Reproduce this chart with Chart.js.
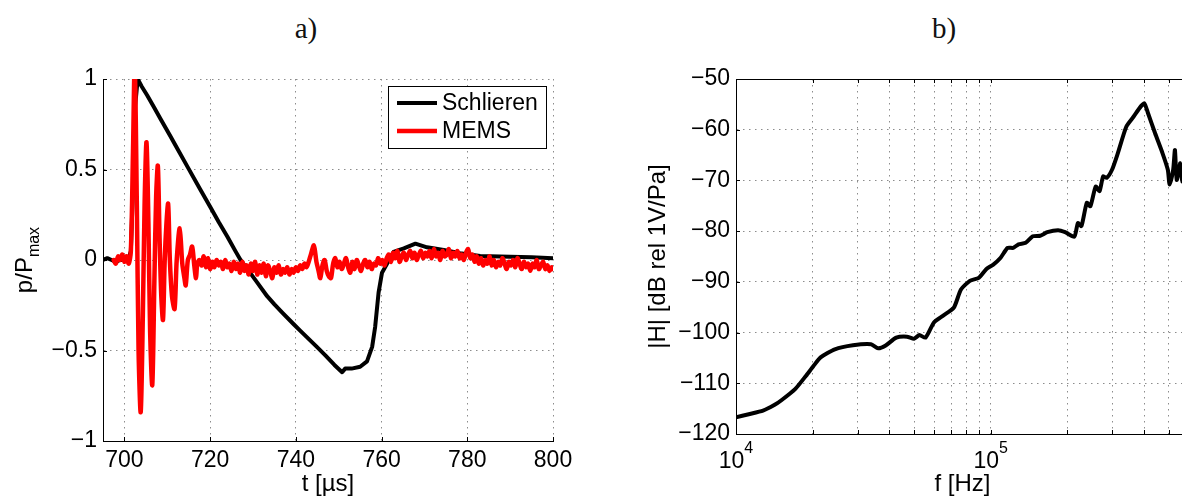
<!DOCTYPE html>
<html>
<head>
<meta charset="utf-8">
<script src="https://cdn.jsdelivr.net/npm/chart.js@4.4.0/dist/chart.umd.min.js"></script>
<style>
  html, body { margin: 0; padding: 0; background: #fff; overflow: hidden; }
  body { width: 1182px; height: 496px; position: relative; }
  .panel { position: absolute; top: 0; width: 600px; height: 496px; }
  .tag { position: absolute; font-family: "Liberation Serif", "DejaVu Serif", serif; font-size: 29px;
         color: #111; transform: translate(-50%, -50%); line-height: 1; }
</style>
</head>
<body>
<div class="tag" style="left:306px;top:28px">a)</div>
<div class="tag" style="left:944px;top:28px">b)</div>
<div class="panel" style="left:0"><canvas id="chartA"></canvas></div>
<div class="panel" style="left:600px"><canvas id="chartB"></canvas></div>
<script>
const FONT = '"Liberation Sans", Arial, sans-serif';
const GRID = '#8c8c8c';
const DOTS = [1.5, 4.5];

// a) normalised pressure traces
const schlierenTime = [695, 696, 697, 698, 699, 700, 701, 701.5, 702, 702.5, 703.1,
  704, 705.3, 707, 708.4, 710.7, 712, 714.6, 717.7, 720.1, 722,
  724, 726, 727.1, 729, 731, 733.3, 735, 737, 739.5, 741,
  742.5, 744.9, 747, 749, 750.8, 751.5, 753, 755, 756.6, 757.8,
  758.5, 759.3, 760.1, 761.3, 762.8, 765.2, 767.9, 770.6, 774.5, 778.3,
  783, 790, 795, 800];
const schlierenP = [0, 0.01, 0, -0.01, 0, 0, 0.01, 0.05, 0.4, 0.85, 1.0,
  0.96, 0.91, 0.84, 0.78, 0.685, 0.63, 0.52, 0.39, 0.29, 0.21,
  0.13, 0.045, 0.0, -0.06, -0.125, -0.20, -0.245, -0.295, -0.355, -0.39,
  -0.425, -0.48, -0.53, -0.58, -0.62, -0.60, -0.60, -0.59, -0.56, -0.48,
  -0.37, -0.18, -0.07, -0.02, 0.045, 0.064, 0.09, 0.07, 0.055, 0.037,
  0.022, 0.018, 0.015, 0.01];

const memsTime = [
  697.5, 698, 698.5, 699, 699.5, 700, 700.5, 701, 701.5, 702,
  702.4, 702.9, 703.3, 703.8, 704.3, 704.7, 705.15, 705.6, 706.0, 706.5,
  707.0, 707.4, 707.8, 708.2, 708.6, 709.0, 709.4, 709.8, 710.2, 710.6,
  711.1, 711.7, 712.2, 712.9, 713.5, 714.0, 714.3, 714.8, 715.3, 715.8,
  716.3, 716.7, 717.0, 717.5,
  718, 718.5, 719, 719.5, 720, 720.5, 721, 721.5, 722, 722.5,
  723, 723.5, 724, 724.5, 725, 725.5, 726, 726.5, 727, 727.5,
  728, 728.5, 729, 729.5, 730, 730.5, 731, 731.5, 732, 732.5,
  733, 733.5, 734, 734.5, 735, 735.5, 736, 736.5, 737, 737.5,
  738, 738.5, 739, 739.5, 740, 740.5, 741, 741.5, 742, 742.5,
  743, 743.5, 744.2, 744.8, 745.3, 745.7, 746.2, 746.7, 747.2, 747.7,
  748.2, 748.7, 749.2, 749.7, 750.2, 750.7, 751.2, 751.7, 752.2, 752.7,
  753.2, 753.7, 754.2, 754.7, 755.2, 755.7, 756.2, 756.7, 757.2, 757.7,
  758.2, 758.7, 759.2, 759.7, 760.2, 760.7, 761.2, 761.7, 762.2, 762.7,
  763.2, 763.7, 764.2, 764.7, 765.2, 765.7, 766.2, 766.7, 767.2, 767.7,
  768.2, 768.7, 769.2, 769.7, 770.2, 770.7, 771.2, 771.7, 772.2, 772.7,
  773.2, 773.7, 774.2, 774.7, 775.2, 775.7, 776.2, 776.7, 777.2, 777.7,
  778.2, 778.7, 779.2, 779.7, 780.2, 780.7, 781.2, 781.7, 782.2, 782.7,
  783.2, 783.7, 784.2, 784.7, 785.2, 785.7, 786.2, 786.7, 787.2, 787.7,
  788.2, 788.7, 789.2, 789.7, 790.2, 790.7, 791.2, 791.7, 792.2, 792.7,
  793.2, 793.7, 794.2, 794.7, 795.2, 795.7, 796.2, 796.7, 797.2, 797.7,
  798.2, 798.7, 799.2, 799.7, 800];
const memsP = [
  0.0, -0.02, 0.02, 0.0, 0.03, -0.01, 0.02, -0.02, 0.05, 0.6,
  1.08, 0.3, -0.5, -0.84, -0.3, 0.3, 0.65, 0.2, -0.4, -0.69,
  -0.1, 0.35, 0.52, 0.12, -0.2, -0.33, 0.0, 0.2, 0.31, 0.0,
  -0.2, -0.27, 0.0, 0.175, -0.02, -0.1, -0.14, 0.0, 0.03, 0.074,
  -0.03, -0.1, -0.02, 0.0,
  -0.03, 0.02, -0.04, 0.01, -0.05, -0.01, -0.04, 0.00, -0.03, -0.01,
  -0.05, 0.00, -0.04, -0.02, -0.06, -0.01, -0.05, -0.02, -0.07, -0.01,
  -0.06, -0.03, -0.08, -0.02, -0.06, -0.01, -0.08, -0.03, -0.07, -0.02,
  -0.09, -0.03, -0.06, -0.10, -0.04, -0.07, -0.03, -0.08, -0.05, -0.07,
  -0.04, -0.08, -0.05, -0.07, -0.04, -0.06, -0.03, -0.05, -0.02, -0.04,
  -0.01, 0.03, 0.08, -0.01, -0.06, -0.10, -0.03, 0.00, -0.06, -0.09,
  -0.10, -0.02, 0.01, -0.04, -0.01, -0.05, -0.02, 0.01, -0.04, -0.07,
  -0.01, -0.05, 0.00, -0.03, -0.06, -0.02, 0.00, -0.04, -0.01, -0.05,
  -0.02, -0.03, 0.01, -0.02, 0.00, -0.03, 0.01, 0.03, -0.01, 0.04,
  0.01, 0.05, -0.01, 0.02, 0.04, 0.00, 0.03, 0.05, 0.01, 0.04,
  0.00, 0.03, 0.05, 0.01, 0.04, 0.02, 0.05, 0.01, 0.06, 0.02,
  0.04, 0.00, 0.05, 0.02, 0.03, 0.06, 0.01, 0.04, 0.02, 0.05,
  0.01, 0.03, 0.00, 0.04, 0.06, 0.01, 0.03, -0.01, 0.02, -0.02,
  0.01, -0.03, 0.00, -0.02, 0.02, -0.03, 0.00, -0.04, -0.01, -0.03,
  0.01, -0.02, -0.05, -0.01, -0.03, 0.00, -0.04, 0.01, -0.02, -0.05,
  -0.01, -0.04, -0.02, -0.06, -0.02, -0.04, 0.00, -0.05, -0.03, -0.01,
  -0.05, -0.03, -0.06, -0.04, -0.05];

const timeTicks = [700, 720, 740, 760, 780, 800];
const pTicks = [-1, -0.5, 0, 0.5, 1];

// b) sensor transfer function magnitude
const freqHz = [10000, 11220, 12760, 14130, 15030, 17100, 18840, 20140, 21480, 24430,
  28770, 33880, 36140, 38550, 42560, 46880, 50000, 52480, 55460, 59840,
  64860, 71610, 76380, 82790, 89740, 95940, 102300, 109100, 116400, 122500,
  128500, 137100, 146200, 156300, 166700, 183700, 195900, 212800, 219800, 227000,
  238200, 246000, 258200, 267300, 276100, 285100, 299200, 314100, 340400, 363900,
  388200, 400900, 414000, 441600, 472100, 495500, 503500, 520000, 528400, 537000,
  554600, 563600, 582100, 600000];
const magDb = [-116.7, -116.1, -115.4, -114.3, -113.4, -111.1, -108.5, -106.6, -104.9, -103.3,
  -102.5, -102.3, -103.1, -102.6, -101.0, -100.8, -101.2, -100.5, -101.0, -98.0,
  -96.7, -95.1, -91.5, -89.8, -89.2, -87.5, -86.6, -85.3, -83.3, -83.3,
  -82.6, -82.3, -81.0, -80.9, -80.2, -79.8, -80.2, -81.1, -78.4, -79.0,
  -74.4, -75.1, -71.2, -72.1, -69.2, -69.5, -67.9, -64.9, -59.4, -57.4,
  -55.4, -54.8, -56.7, -60.7, -64.6, -67.9, -70.8, -67.9, -64.0, -69.9,
  -66.6, -70.2, -67.0, -68.0];

const freqTicks = [10000, 20000, 30000, 40000, 50000, 60000, 70000, 80000, 90000,
  100000, 200000, 300000, 400000, 500000, 600000];
const decadeValues = [10000, 100000];
const decadeExps = ['4', '5'];
const dbTicks = [-120, -110, -100, -90, -80, -70, -60, -50];

function minusFmt(v) {
  return v < 0 ? '\u2212' + String(-v) : String(v);
}

function drawInwardTicks(chart, len, allSides) {
  const {ctx, chartArea: a, scales} = chart;
  ctx.save();
  ctx.strokeStyle = '#000';
  ctx.lineWidth = 1;
  ctx.beginPath();
  scales.x.ticks.forEach(t => {
    const x = Math.round(scales.x.getPixelForValue(t.value)) + 0.5;
    ctx.moveTo(x, a.bottom); ctx.lineTo(x, a.bottom - len);
    if (allSides) { ctx.moveTo(x, a.top); ctx.lineTo(x, a.top + len); }
  });
  scales.y.ticks.forEach(t => {
    const y = Math.round(scales.y.getPixelForValue(t.value)) + 0.5;
    ctx.moveTo(a.left, y); ctx.lineTo(a.left + len, y);
    if (allSides) { ctx.moveTo(a.right, y); ctx.lineTo(a.right - len, y); }
  });
  ctx.stroke();
  ctx.restore();
}

function drawYTitle(ctx, x, yc, main, sub) {
  ctx.save();
  ctx.translate(x, yc);
  ctx.rotate(-Math.PI / 2);
  ctx.fillStyle = '#000';
  ctx.textAlign = 'left';
  ctx.textBaseline = 'alphabetic';
  ctx.font = '24px ' + FONT;
  const w1 = ctx.measureText(main).width;
  let w2 = 0;
  if (sub) { ctx.font = '16px ' + FONT; w2 = ctx.measureText(sub).width; }
  const start = -(w1 + w2) / 2;
  ctx.font = '24px ' + FONT;
  ctx.fillText(main, start, 0);
  if (sub) { ctx.font = '16px ' + FONT; ctx.fillText(sub, start + w1, 7); }
  ctx.restore();
}

function drawXTitle(ctx, xc, y, text) {
  ctx.save();
  ctx.fillStyle = '#000';
  ctx.font = '24px ' + FONT;
  ctx.textAlign = 'center';
  ctx.textBaseline = 'middle';
  ctx.fillText(text, xc, y);
  ctx.restore();
}

const decorA = {
  id: 'decorA',
  afterDatasetsDraw(chart) {
    const {ctx, chartArea: a} = chart;
    drawInwardTicks(chart, 4, false);

    // legend box in the upper right corner
    const bw = 158, bh = 62;
    const bx = a.right - bw - 7, by = a.top + 7;
    ctx.save();
    ctx.fillStyle = '#fff';
    ctx.fillRect(bx, by, bw, bh);
    ctx.strokeStyle = '#000';
    ctx.lineWidth = 1;
    ctx.strokeRect(bx + 0.5, by + 0.5, bw, bh);
    chart.data.datasets.forEach((ds, i) => {
      const y = by + 17 + i * 28;
      ctx.strokeStyle = ds.borderColor;
      ctx.lineWidth = ds.borderWidth;
      ctx.beginPath();
      ctx.moveTo(bx + 9, y);
      ctx.lineTo(bx + 49, y);
      ctx.stroke();
      ctx.fillStyle = '#000';
      ctx.font = '23px ' + FONT;
      ctx.textAlign = 'left';
      ctx.textBaseline = 'middle';
      ctx.fillText(ds.label, bx + 54, y + 1);
    });
    ctx.restore();

    drawXTitle(ctx, (a.left + a.right) / 2, 484, 't [\u00b5s]');
    drawYTitle(ctx, 32, (a.top + a.bottom) / 2, 'p/P', 'max');
  }
};

const decorB = {
  id: 'decorB',
  afterDatasetsDraw(chart) {
    const {ctx, chartArea: a, scales} = chart;
    drawInwardTicks(chart, 4, true);
    ctx.save();
    ctx.strokeStyle = '#000';
    ctx.lineWidth = 1;
    ctx.beginPath();
    ctx.moveTo(a.left, a.top + 0.5); ctx.lineTo(a.right, a.top + 0.5);
    ctx.moveTo(a.right - 0.5, a.top); ctx.lineTo(a.right - 0.5, a.bottom);
    ctx.stroke();

    // decade labels 10^4, 10^5
    ctx.fillStyle = '#000';
    ctx.textAlign = 'left';
    ctx.textBaseline = 'alphabetic';
    decadeValues.forEach((v, i) => {
      const x = scales.x.getPixelForValue(v);
      ctx.font = '23px ' + FONT;
      const wb = ctx.measureText('10').width;
      ctx.font = '16px ' + FONT;
      const we = ctx.measureText(decadeExps[i]).width;
      const x0 = x - (wb + we) / 2;
      ctx.font = '23px ' + FONT;
      ctx.fillText('10', x0, 468);
      ctx.font = '16px ' + FONT;
      ctx.fillText(decadeExps[i], x0 + wb, 453);
    });
    ctx.restore();

    drawXTitle(ctx, (a.left + a.right) / 2, 484, 'f [Hz]');
    drawYTitle(ctx, 65, (a.top + a.bottom) / 2, '|H| [dB rel 1V/Pa]', '');
  }
};

const tickFont = {family: FONT, size: 23};

new Chart(document.getElementById('chartA').getContext('2d'), {
  type: 'line',
  data: {
    datasets: [{
      label: 'Schlieren',
      data: schlierenTime.map((t, i) => ({x: t, y: schlierenP[i]})),
      borderColor: '#000000',
      borderWidth: 4,
      tension: 0,
      order: 2
    }, {
      label: 'MEMS',
      data: memsTime.map((t, i) => ({x: t, y: memsP[i]})),
      borderColor: '#ff0000',
      borderWidth: 4.5,
      tension: 0.3,
      order: 1
    }]
  },
  options: {
    responsive: true,
    maintainAspectRatio: false,
    animation: false,
    events: [],
    layout: {padding: {top: 79, right: 47, left: 0, bottom: 0}},
    elements: {point: {radius: 0}, line: {borderJoinStyle: 'round', borderCapStyle: 'round'}},
    plugins: {legend: {display: false}, tooltip: {enabled: false}},
    scales: {
      x: {
        type: 'linear', min: 695, max: 800,
        afterBuildTicks: s => { s.ticks = timeTicks.map(v => ({value: v})); },
        afterFit: s => { s.height = 55; },
        ticks: {font: tickFont, color: '#000', padding: 6, maxRotation: 0, autoSkip: false},
        grid: {color: GRID, lineWidth: 1, drawTicks: false},
        border: {color: '#000', width: 1, dash: DOTS}
      },
      y: {
        type: 'linear', min: -1, max: 1,
        afterBuildTicks: s => { s.ticks = pTicks.map(v => ({value: v})); },
        afterFit: s => { s.width = 103; },
        ticks: {font: tickFont, color: '#000', padding: 6, callback: v => minusFmt(v)},
        grid: {color: GRID, lineWidth: 1, drawTicks: false},
        border: {color: '#000', width: 1, dash: DOTS}
      }
    }
  },
  plugins: [decorA]
});

new Chart(document.getElementById('chartB').getContext('2d'), {
  type: 'line',
  data: {
    datasets: [{
      label: '|H|',
      data: freqHz.map((f, i) => ({x: f, y: magDb[i]})),
      borderColor: '#000000',
      borderWidth: 4,
      tension: 0.2
    }]
  },
  options: {
    responsive: true,
    maintainAspectRatio: false,
    animation: false,
    events: [],
    layout: {padding: {top: 79, right: 11, left: 0, bottom: 0}},
    elements: {point: {radius: 0}, line: {borderJoinStyle: 'round', borderCapStyle: 'round'}},
    plugins: {legend: {display: false}, tooltip: {enabled: false}},
    scales: {
      x: {
        type: 'logarithmic', min: 10000, max: 600000,
        afterBuildTicks: s => { s.ticks = freqTicks.map(v => ({value: v})); },
        afterFit: s => { s.height = 62; },
        ticks: {display: false},
        grid: {color: GRID, lineWidth: 1, drawTicks: false},
        border: {color: '#000', width: 1, dash: DOTS}
      },
      y: {
        type: 'linear', min: -120, max: -50,
        afterBuildTicks: s => { s.ticks = dbTicks.map(v => ({value: v})); },
        afterFit: s => { s.width = 136; },
        ticks: {font: tickFont, color: '#000', padding: 6, callback: v => minusFmt(v)},
        grid: {color: GRID, lineWidth: 1, drawTicks: false},
        border: {color: '#000', width: 1, dash: DOTS}
      }
    }
  },
  plugins: [decorB]
});
</script>
</body>
</html>
